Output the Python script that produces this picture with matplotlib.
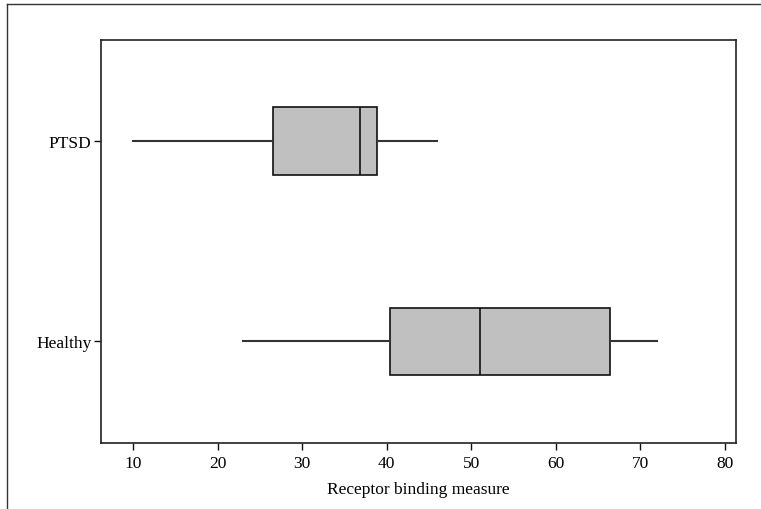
import matplotlib
matplotlib.use('Agg')
import matplotlib.pyplot as plt
from matplotlib.lines import Line2D

plt.rcParams['font.family'] = ['Liberation Serif', 'DejaVu Serif']

groups = ['Healthy', 'PTSD']
# five-number summaries: low whisker, Q1, median, Q3, high whisker
whislo = [23, 10]
q1 = [40.4, 26.5]
med = [51.0, 36.9]
q3 = [66.4, 38.9]
whishi = [72, 46]

stats = []
for i, g in enumerate(groups):
    stats.append({'label': g, 'whislo': whislo[i], 'q1': q1[i], 'med': med[i],
                  'q3': q3[i], 'whishi': whishi[i], 'fliers': []})

fig = plt.figure(figsize=(7.61, 5.10), dpi=100)
ax = fig.add_axes([0.1331, 0.130, 0.8337, 0.7902])

ax.bxp(stats, positions=[1, 2], vert=False, widths=0.336, patch_artist=True,
       showcaps=False, showfliers=False,
       boxprops=dict(facecolor='#c0c0c0', edgecolor='#111111', linewidth=1.2),
       medianprops=dict(color='#111111', linewidth=1.2),
       whiskerprops=dict(color='#333333', linewidth=1.5))

ax.set_xlim(6.25, 81.27)
ax.set_ylim(0.495, 2.505)
ax.set_xticks([10, 20, 30, 40, 50, 60, 70, 80])
ax.set_yticks([1, 2])
ax.set_yticklabels(groups)
ax.tick_params(axis='both', labelsize=12.5, length=5, width=1, color='#111111')
ax.tick_params(axis='x', pad=4)
ax.tick_params(axis='y', pad=2)
ax.set_xlabel('Receptor binding measure', fontsize=12.5, labelpad=7)
for s in ax.spines.values():
    s.set_linewidth(1.2)
    s.set_color('#222222')

# outer frame lines (top and left only visible)
fig.add_artist(Line2D([7 / 761, 1], [1 - 5.3 / 510, 1 - 5.3 / 510],
                      transform=fig.transFigure, color='#333333', linewidth=1))
fig.add_artist(Line2D([7 / 761, 7 / 761], [0, 1 - 5.3 / 510],
                      transform=fig.transFigure, color='#333333', linewidth=1))

fig.savefig('out.png', dpi=100)
